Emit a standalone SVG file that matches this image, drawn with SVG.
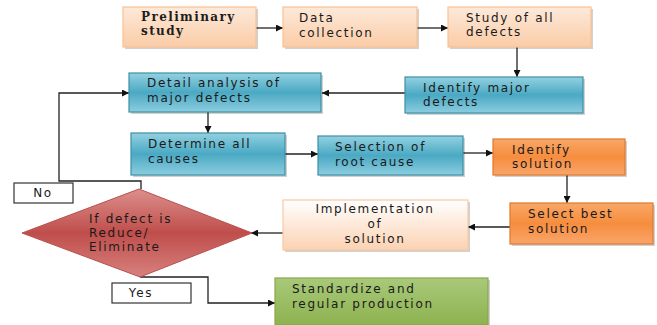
<svg xmlns="http://www.w3.org/2000/svg" width="657" height="325" viewBox="0 0 657 325">
<style>
.t{font-family:"DejaVu Sans","Verdana",sans-serif;font-size:12px;letter-spacing:1.7px;fill:#1a1a1a}
.ts{font-family:"DejaVu Serif","Liberation Serif",serif;font-size:12px;font-weight:bold;letter-spacing:1.4px;fill:#1e1e1e}
.sh{fill:#000;opacity:0.18}
.peach{fill:url(#gPeach);stroke:#f9c294;stroke-width:1.2}
.blue{fill:url(#gBlue);stroke:#3e8fa6;stroke-width:1.2}
.orange{fill:url(#gOrange);stroke:#e0782e;stroke-width:1.2}
.impl{fill:url(#gImpl);stroke:#f9c9a4;stroke-width:1.2}
.green{fill:url(#gGreen);stroke:#86a84a;stroke-width:1.2}
.lbl{fill:#fff;stroke:#333;stroke-width:1.2}
.c{fill:none;stroke:#222;stroke-width:1.3}
</style>
<defs>
<linearGradient id="gPeach" x1="0" y1="0" x2="0" y2="1"><stop offset="0" stop-color="#fde9da"/><stop offset="1" stop-color="#fbcca6"/></linearGradient>
<linearGradient id="gBlue" x1="0" y1="0" x2="0" y2="1"><stop offset="0" stop-color="#93d1e1"/><stop offset="0.5" stop-color="#4aa9c3"/><stop offset="1" stop-color="#8ccde0"/></linearGradient>
<linearGradient id="gOrange" x1="0" y1="0" x2="0" y2="1"><stop offset="0" stop-color="#f9a867"/><stop offset="0.5" stop-color="#f68d3e"/><stop offset="1" stop-color="#f9a56a"/></linearGradient>
<linearGradient id="gImpl" x1="0" y1="0" x2="0" y2="1"><stop offset="0" stop-color="#ffffff"/><stop offset="1" stop-color="#fbd2b2"/></linearGradient>
<linearGradient id="gGreen" x1="0" y1="0" x2="0" y2="1"><stop offset="0" stop-color="#a9c97a"/><stop offset="1" stop-color="#8db24f"/></linearGradient>
<linearGradient id="gRed" x1="0" y1="0" x2="0" y2="1"><stop offset="0" stop-color="#dc8f8d"/><stop offset="0.5" stop-color="#bf4e4b"/><stop offset="1" stop-color="#d7817e"/></linearGradient>
<marker id="ah" viewBox="0 0 10 10" refX="10" refY="5" markerWidth="8" markerHeight="7" markerUnits="userSpaceOnUse" orient="auto"><path d="M0,0 L10,5 L0,10 z" fill="#111"/></marker>
</defs>

<g id="connectors">
<path class="c" d="M256,28 H283" marker-end="url(#ah)"/>
<path class="c" d="M417,28 H448" marker-end="url(#ah)"/>
<path class="c" d="M517,47 V77" marker-end="url(#ah)"/>
<path class="c" d="M405,93 H322" marker-end="url(#ah)"/>
<path class="c" d="M208,112 V133" marker-end="url(#ah)"/>
<path class="c" d="M285,154 H318" marker-end="url(#ah)"/>
<path class="c" d="M463,153 H493" marker-end="url(#ah)"/>
<path class="c" d="M567,175 V203" marker-end="url(#ah)"/>
<path class="c" d="M510,227 H468" marker-end="url(#ah)"/>
<path class="c" d="M283,233 H251" marker-end="url(#ah)"/>
<path class="c" d="M141,189 V181 H59 V93 H129" marker-end="url(#ah)"/>
<path class="c" d="M140,277 H208 V303 H275" marker-end="url(#ah)"/>
</g>

<g id="n-preliminary">
<rect class="sh" x="125" y="9" width="133" height="40"/>
<rect class="peach" x="123" y="7" width="133" height="40"/>
<text class="ts" x="141" y="21">Preliminary</text>
<text class="ts" x="141" y="35">study</text>
</g>
<g id="n-data">
<rect class="sh" x="285" y="9" width="134" height="40"/>
<rect class="peach" x="283" y="7" width="134" height="40"/>
<text class="t" x="299" y="22">Data</text>
<text class="t" x="299" y="37">collection</text>
</g>
<g id="n-study">
<rect class="sh" x="450" y="9" width="143" height="40"/>
<rect class="peach" x="448" y="7" width="143" height="40"/>
<text class="t" x="466" y="22">Study of all</text>
<text class="t" x="466" y="36">defects</text>
</g>
<g id="n-identify-major">
<rect class="sh" x="407" y="79" width="178" height="36"/>
<rect class="blue" x="405" y="77" width="178" height="36"/>
<text class="t" x="423" y="92">Identify major</text>
<text class="t" x="423" y="106">defects</text>
</g>
<g id="n-detail">
<rect class="sh" x="131" y="75" width="192" height="39"/>
<rect class="blue" x="129" y="73" width="192" height="39"/>
<text class="t" x="147" y="87">Detail analysis  of</text>
<text class="t" x="147" y="102">major defects</text>
</g>
<g id="n-determine">
<rect class="sh" x="133" y="135" width="154" height="42"/>
<rect class="blue" x="131" y="133" width="154" height="42"/>
<text class="t" x="148" y="148">Determine all</text>
<text class="t" x="148" y="163">causes</text>
</g>
<g id="n-selection">
<rect class="sh" x="320" y="138" width="145" height="39"/>
<rect class="blue" x="318" y="136" width="145" height="39"/>
<text class="t" x="335" y="151">Selection of</text>
<text class="t" x="335" y="166">root cause</text>
</g>
<g id="n-identify-solution">
<rect class="sh" x="495" y="141" width="132" height="36"/>
<rect class="orange" x="493" y="139" width="132" height="36"/>
<text class="t" x="512" y="154">Identify</text>
<text class="t" x="512" y="168">solution</text>
</g>
<g id="n-select-best">
<rect class="sh" x="512" y="205" width="143" height="41"/>
<rect class="orange" x="510" y="203" width="143" height="41"/>
<text class="t" x="528" y="218">Select best</text>
<text class="t" x="528" y="233">solution</text>
</g>
<g id="n-implementation">
<rect class="sh" x="285" y="202" width="185" height="50"/>
<rect class="impl" x="283" y="200" width="185" height="50"/>
<text class="t" x="375" y="213" text-anchor="middle">Implementation</text>
<text class="t" x="375" y="228" text-anchor="middle">of</text>
<text class="t" x="375" y="243" text-anchor="middle">solution</text>
</g>
<g id="n-decision">
<polygon points="139,189 252,233 140,277 22,233" fill="url(#gRed)" stroke="#b8514e" stroke-width="1"/>
<text class="t" x="89" y="223">If defect is</text>
<text class="t" x="89" y="237">Reduce/</text>
<text class="t" x="89" y="251">Eliminate</text>
</g>
<g id="n-no">
<rect class="lbl" x="14" y="183" width="59" height="20"/>
<text class="t" x="43" y="197" text-anchor="middle">No</text>
</g>
<g id="n-yes">
<rect class="lbl" x="112" y="283" width="79" height="20"/>
<text class="t" x="141" y="297" text-anchor="middle">Yes</text>
</g>
<g id="n-standardize">
<rect class="sh" x="277" y="280" width="213" height="47"/>
<rect class="green" x="275" y="278" width="213" height="47"/>
<text class="t" x="292" y="293">Standardize and</text>
<text class="t" x="292" y="308">regular production</text>
</g>
</svg>
